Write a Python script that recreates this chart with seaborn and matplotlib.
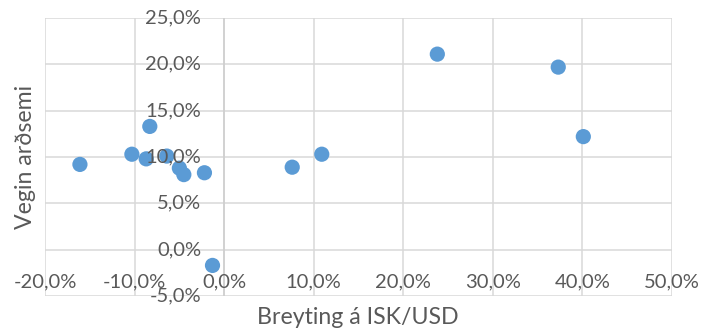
import matplotlib
matplotlib.use("Agg")
import matplotlib.pyplot as plt
import matplotlib.transforms as mtransforms
import seaborn as sns
import pandas as pd

# Change in ISK/USD exchange rate (%) and weighted return (%)
isk_usd_change = [-16.1, -10.3, -8.3, -8.7, -6.4, -5.0, -4.5, -2.2, -1.3, 7.6, 10.9, 23.8, 37.3, 40.1]
weighted_return = [9.2, 10.3, 13.3, 9.8, 10.1, 8.8, 8.1, 8.3, -1.7, 8.9, 10.3, 21.1, 19.7, 12.2]

x_ticks = [-20, -10, 0, 10, 20, 30, 40, 50]
y_ticks = [-5, 0, 5, 10, 15, 20, 25]
x_title = "Breyting á ISK/USD"
y_title = "Vegin arðsemi"

df = pd.DataFrame({"x": isk_usd_change, "y": weighted_return})

sns.set_style("white")
plt.rcParams["font.family"] = ["Lato", "DejaVu Sans"]

W, H = 704, 332
fig = plt.figure(figsize=(W / 100, H / 100), dpi=100)
ax = fig.add_axes([45 / W, (H - 296) / H, (672 - 45) / W, (296 - 18) / H])

grid_color = "#D9D9D9"
text_color = "#595959"

for xv in x_ticks:
    ax.axvline(xv, color=grid_color, lw=1.1, zorder=0)
for yv in y_ticks:
    ax.axhline(yv, color=grid_color, lw=1.1, zorder=0)
ax.axvline(0, color="#CFCFCF", lw=1.2, zorder=0)

sns.scatterplot(data=df, x="x", y="y", ax=ax, s=120, color="#5B9BD5",
                edgecolor="none", linewidth=0, zorder=3, legend=False)

ax.set_xlim(-20, 50)
ax.set_ylim(-5, 25)
ax.set_xticks([])
ax.set_yticks([])
ax.set_xlabel("")
ax.set_ylabel("")
for s in ax.spines.values():
    s.set_visible(False)


def pct(v):
    return f"{v:.1f}".replace(".", ",") + "%"


# y tick labels sit to the left of the vertical axis at x = 0
ylab_tr = mtransforms.offset_copy(ax.transData, fig=fig, x=-23, y=0, units="dots")
for yv in y_ticks:
    ax.text(0, yv, pct(yv), transform=ylab_tr, ha="right", va="center",
            fontsize=14.5, color=text_color, clip_on=False)

# x tick labels sit below the horizontal axis at y = 0
xlab_tr = mtransforms.offset_copy(ax.transData, fig=fig, x=0, y=-32, units="dots")
for xv in x_ticks:
    ax.text(xv, 0, pct(xv), transform=xlab_tr, ha="center", va="center",
            fontsize=14.5, color=text_color, clip_on=False)

fig.text(358 / W, 1 - 318 / H, x_title, ha="center", va="center",
         fontsize=16.7, color=text_color)
fig.text(26 / W, 1 - 157 / H, y_title, ha="center", va="center",
         rotation=90, fontsize=16.7, color=text_color)

fig.savefig("out.png", dpi=100)
